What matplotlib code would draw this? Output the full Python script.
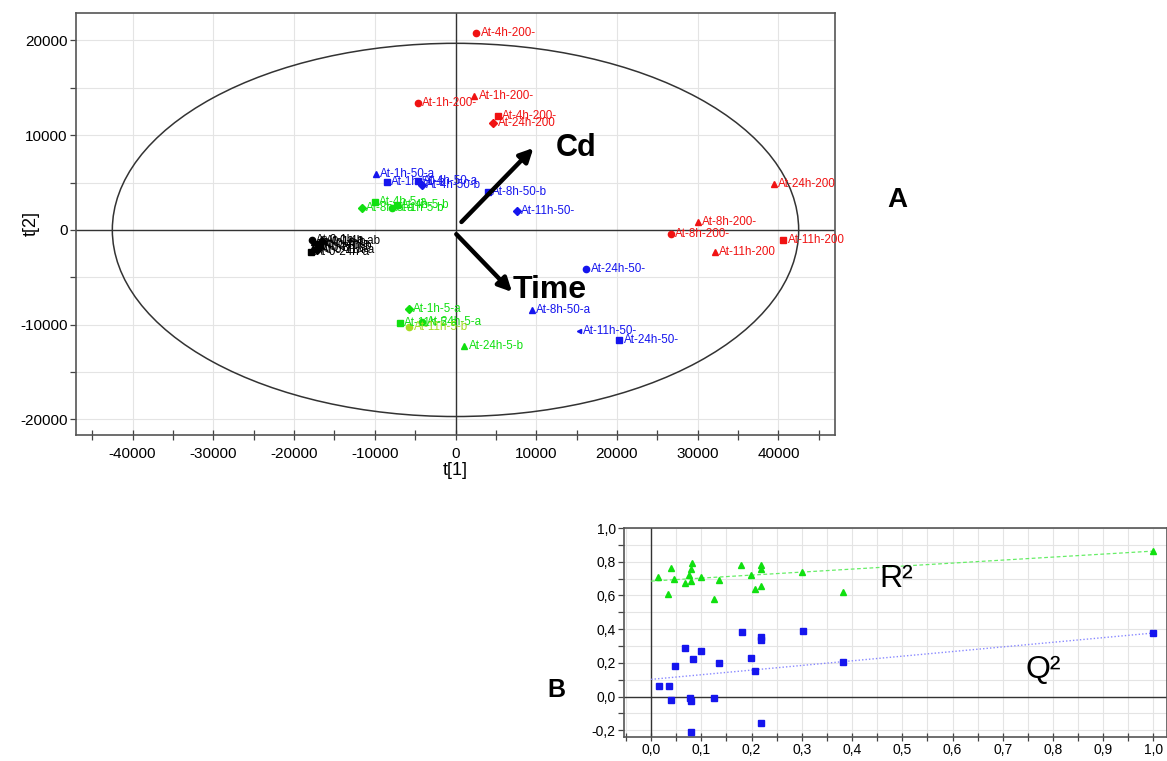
import matplotlib
matplotlib.use("Agg")
import matplotlib.pyplot as plt
from matplotlib.patches import Ellipse
from matplotlib.ticker import MultipleLocator, FuncFormatter
import numpy as np

plt.rcParams['font.family'] = ['Liberation Sans', 'DejaVu Sans']
plt.rcParams['axes.unicode_minus'] = False

# ---------------- Panel A data (score plot t[1] vs t[2]) ----------------
red_x = [2600, -4700, 2350, 5300, 4700, 39400, 30000, 26700, 40600, 32100]
red_y = [20800, 13400, 14100, 12000, 11300, 4850, 850, -420, -1050, -2300]
red_m = ['o', 'o', '^', 's', 'D', '^', '^', 'o', 's', '^']
red_lab = ['At-4h-200-', 'At-1h-200-', 'At-1h-200-', 'At-4h-200-', 'At-24h-200',
           'At-24h-200', 'At-8h-200-', 'At-8h-200-', 'At-11h-200', 'At-11h-200']

blue_x = [-9900, -8500, -4600, -4200, 4000, 7600, 16200, 9500, 15300, 20300]
blue_y = [5900, 5050, 5150, 4750, 4000, 2000, -4100, -8500, -10650, -11600]
blue_m = ['^', 's', 's', 'D', 's', 'D', 'o', '^', '<', 's']
blue_lab = ['At-1h-50-a', 'At-1h-50-b', 'At-4h-50-a', 'At-4h-50-b', 'At-8h-50-b',
            'At-11h-50-', 'At-24h-50-', 'At-8h-50-a', 'At-11h-50-', 'At-24h-50-']

green_x = [-10000, -11600, -7900, -7300, -5800, -6900, -4100, 1100]
green_y = [3000, 2300, 2300, 2600, -8400, -9800, -9700, -12300]
green_m = ['s', 'D', 'o', 's', 'D', 's', 'o', '^']
green_lab = ['At-4h-5-a', 'At-8h-5-a', 'At-1h-5-b', 'At-4h-5-b', 'At-1h-5-a',
             'At-11h-5-a', 'At-24h-5-a', 'At-24h-5-b']

lime_x = [-5700]
lime_y = [-10200]
lime_m = ['o']
lime_lab = ['At-11h-5-b']

black_x = [-17800, -17500, -17000, -16500, -17600, -16800, -17900, -17200]
black_y = [-1100, -1300, -1500, -1200, -1900, -1700, -2300, -2100]
black_m = ['o', '^', 's', 'D', '^', 'o', 's', 'D']
black_lab = ['At-0-1h-a', 'At-0-1h-b', 'At-0-4h-a', 'At-0-4h-ab', 'At-0-8h-a',
             'At-0-8h-b', 'At-0-24h-a', 'At-0-11h-a']

ellipse_ax = [42500, 19700]
arrow_cd = [(740, 840), (9650, 8650)]
arrow_time = [(100, -450), (7000, -6550)]

# ---------------- Panel B data (permutation test) ----------------
r2_x = [0.014, 0.034, 0.039, 0.046, 0.067, 0.076, 0.080, 0.080, 0.082, 0.100,
        0.125, 0.135, 0.178, 0.198, 0.207, 0.218, 0.218, 0.218, 0.301, 0.381, 1.0]
r2_y = [0.712, 0.609, 0.764, 0.695, 0.673, 0.722, 0.754, 0.685, 0.792, 0.707,
        0.576, 0.691, 0.778, 0.724, 0.639, 0.655, 0.754, 0.778, 0.740, 0.619, 0.863]
q2_x = [0.015, 0.035, 0.040, 0.047, 0.068, 0.078, 0.080, 0.083, 0.080, 0.100,
        0.125, 0.136, 0.180, 0.198, 0.207, 0.219, 0.219, 0.219, 0.303, 0.381, 1.0]
q2_y = [0.062, 0.062, -0.023, 0.181, 0.288, -0.007, -0.029, 0.225, -0.208, 0.270,
        -0.011, 0.197, 0.385, 0.231, 0.151, 0.356, 0.336, -0.158, 0.389, 0.205, 0.377]
r2_intercept = 0.685
q2_intercept = 0.102

RED = '#f01212'
BLUE = '#1515ee'
GREEN = '#10e010'
LIME = '#a6dd22'

fig = plt.figure(figsize=(11.67, 7.61), dpi=100)

# ---------------- Panel A ----------------
axA = fig.add_axes([76 / 1167, 1 - 435 / 761, (835 - 76) / 1167, (435 - 13) / 761])
axA.set_xlim(-47000, 47000)
axA.set_ylim(-21650, 22900)
axA.xaxis.set_major_locator(MultipleLocator(10000))
axA.xaxis.set_minor_locator(MultipleLocator(5000))
axA.yaxis.set_major_locator(MultipleLocator(10000))
axA.yaxis.set_minor_locator(MultipleLocator(5000))
axA.grid(True, which='major', axis='x', color='#e4e4e4', lw=0.8)
axA.grid(True, which='both', axis='y', color='#e4e4e4', lw=0.8)
axA.set_axisbelow(True)
axA.tick_params(axis='x', which='both', direction='inout', length=7, width=0.9,
                labelsize=11, pad=5, color='#444')
axA.tick_params(axis='y', which='both', direction='out', length=4, width=0.9,
                labelsize=11, pad=2, color='#444')
for s in axA.spines.values():
    s.set_color('#555')
    s.set_linewidth(1.2)
axA.axhline(0, color='#333', lw=1, zorder=1)
axA.axvline(0, color='#333', lw=1, zorder=1)
axA.add_patch(Ellipse((0, 0), 2 * ellipse_ax[0], 2 * ellipse_ax[1], fill=False,
                      edgecolor='#333', lw=1.1, zorder=2))
axA.set_xlabel('t[1]', fontsize=13, labelpad=1)
axA.set_ylabel('t[2]', fontsize=13)
axA.yaxis.set_label_coords(-(76 - 40) / 759, 0.5)


def draw_group(xs, ys, ms, labs, color, tcolor=None):
    tcolor = tcolor or color
    for x, y, m, lab in zip(xs, ys, ms, labs):
        size = 4.5 if m != '<' else 3
        axA.plot(x, y, marker=m, color=color, ms=size, ls='none', zorder=3)
        axA.annotate(lab, (x, y), xytext=(3, 0), textcoords='offset points',
                     fontsize=8.4, color=tcolor, va='center', ha='left', zorder=4)


draw_group(black_x, black_y, black_m, black_lab, 'black')
draw_group(green_x, green_y, green_m, green_lab, GREEN)
draw_group(lime_x, lime_y, lime_m, lime_lab, LIME)
draw_group(blue_x, blue_y, blue_m, blue_lab, BLUE)
draw_group(red_x, red_y, red_m, red_lab, RED)

for start, end in [arrow_cd, arrow_time]:
    axA.annotate('', xy=end, xytext=start,
                 arrowprops=dict(arrowstyle='-|>', lw=3.2, color='black',
                                 mutation_scale=20, shrinkA=0, shrinkB=0), zorder=5)
axA.text(12400, 8650, 'Cd', fontsize=22, fontweight='bold', ha='left', va='center')
axA.text(7100, -6350, 'Time', fontsize=23, fontweight='bold', ha='left', va='center')

fig.text(897 / 1167, 1 - 200 / 761, 'A', fontsize=20, fontweight='bold',
         ha='center', va='center')
fig.text(556 / 1167, 1 - 690 / 761, 'B', fontsize=18, fontweight='bold',
         ha='center', va='center')

# ---------------- Panel B ----------------
axB = fig.add_axes([624 / 1167, 1 - 737 / 761, (1167 - 624) / 1167, (737 - 528) / 761])
axB.set_xlim(-0.054, 1.027)
axB.set_ylim(-0.24, 1.0)
axB.xaxis.set_major_locator(MultipleLocator(0.1))
axB.xaxis.set_minor_locator(MultipleLocator(0.05))
axB.yaxis.set_major_locator(MultipleLocator(0.2))
axB.yaxis.set_minor_locator(MultipleLocator(0.1))
comma = FuncFormatter(lambda v, p: f'{v:.1f}'.replace('.', ',').replace('-0,0', '0,0'))
axB.xaxis.set_major_formatter(comma)
axB.yaxis.set_major_formatter(comma)
axB.grid(True, which='both', color='#e4e4e4', lw=0.8)
axB.set_axisbelow(True)
axB.tick_params(axis='x', which='both', direction='inout', length=6, width=0.9,
                labelsize=10, pad=1, color='#444')
axB.tick_params(axis='y', which='both', direction='out', length=4, width=0.9,
                labelsize=10, pad=2, color='#444')
for s in axB.spines.values():
    s.set_color('#555')
    s.set_linewidth(1.2)
axB.axhline(0, color='#333', lw=1, zorder=1)
axB.axvline(0, color='#333', lw=1, zorder=1)

lx = np.array([0.0, 1.0])
axB.plot(lx, r2_intercept + (r2_y[-1] - r2_intercept) * lx, ls=(0, (3, 2)),
         color='#66ee66', lw=0.9, zorder=2)
axB.plot(lx, q2_intercept + (q2_y[-1] - q2_intercept) * lx, ls=(0, (1, 1.5)),
         color='#8888ff', lw=1.0, zorder=2)
axB.plot(r2_x, r2_y, '^', color=GREEN, ms=5, ls='none', zorder=3)
axB.plot(q2_x, q2_y, 's', color=BLUE, ms=4.3, ls='none', zorder=3)
axB.text(0.455, 0.70, 'R²', fontsize=23, ha='left', va='center')
axB.text(0.745, 0.16, 'Q²', fontsize=23, ha='left', va='center')

fig.savefig('out.png', dpi=100)
